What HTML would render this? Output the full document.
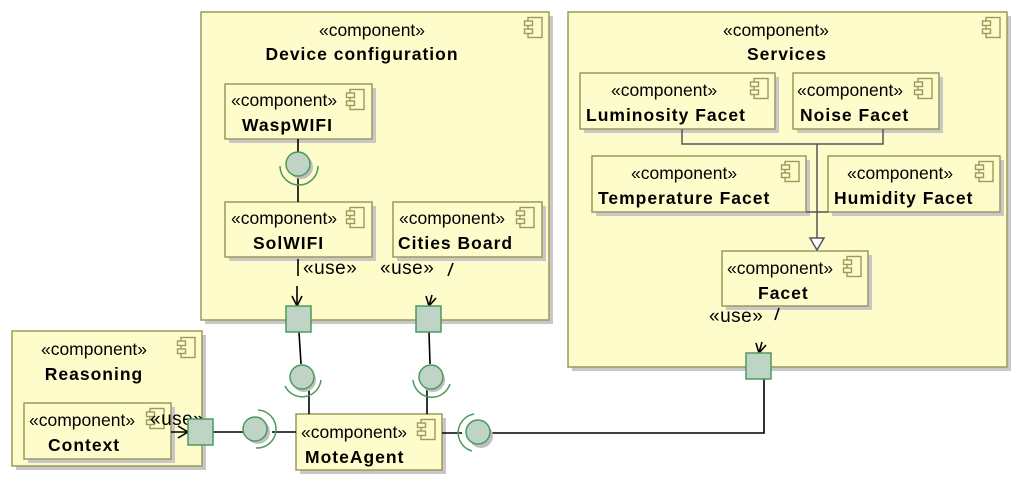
<!DOCTYPE html>
<html><head><meta charset="utf-8"><style>
html,body{margin:0;padding:0;background:#fff;}
svg{display:block;}
text{font-family:"Liberation Sans",Arial,sans-serif;fill:#000;}
.st{font-size:17.5px;}
.nm{font-size:17.5px;font-weight:bold;letter-spacing:1px;}
.us{font-size:19px;letter-spacing:0.5px;}
</style></head><body>
<svg width="1024" height="487" viewBox="0 0 1024 487" xmlns="http://www.w3.org/2000/svg">
<defs>
<symbol id="ic" viewBox="0 0 20 22" overflow="visible">
<rect x="4" y="0.5" width="14" height="20" fill="none" stroke="#9a9a5a" stroke-width="1.4"/>
<rect x="0.5" y="4" width="8" height="4.5" fill="#fffccc" stroke="#9a9a5a" stroke-width="1.4"/>
<rect x="0.5" y="12" width="8" height="4.5" fill="#fffccc" stroke="#9a9a5a" stroke-width="1.4"/>
</symbol>
</defs>
<g fill="#c8c8c8">
<rect x="205" y="16" width="348" height="308"/>
<rect x="572" y="16" width="439" height="355"/>
<rect x="16" y="335" width="190" height="135"/>
</g>
<g fill="#fffccc" stroke="#9a9a5a" stroke-width="1.5">
<rect x="201" y="12" width="348" height="308"/>
<rect x="568" y="12" width="439" height="355"/>
<rect x="12" y="331" width="190" height="135"/>
</g>
<g fill="#c8c8c8">
<rect x="229" y="88" width="147" height="55"/>
<rect x="229" y="206" width="147" height="55"/>
<rect x="397" y="206" width="149" height="55"/>
<rect x="584" y="77" width="195" height="56"/>
<rect x="797" y="77" width="146" height="56"/>
<rect x="596" y="160" width="214" height="56"/>
<rect x="832" y="160" width="172" height="56"/>
<rect x="726" y="255" width="146" height="55"/>
<rect x="28" y="407" width="147" height="56"/>
<rect x="300" y="418" width="146" height="56"/>
</g>
<g fill="#fffccc" stroke="#9a9a5a" stroke-width="1.5">
<rect x="225" y="84" width="147" height="55"/>
<rect x="225" y="202" width="147" height="55"/>
<rect x="393" y="202" width="149" height="55"/>
<rect x="580" y="73" width="195" height="56"/>
<rect x="793" y="73" width="146" height="56"/>
<rect x="592" y="156" width="214" height="56"/>
<rect x="828" y="156" width="172" height="56"/>
<rect x="722" y="251" width="146" height="55"/>
<rect x="24" y="403" width="147" height="56"/>
<rect x="296" y="414" width="146" height="56"/>
</g>
<use href="#ic" x="524" y="17" width="20" height="22"/>
<use href="#ic" x="982" y="17" width="20" height="22"/>
<use href="#ic" x="177" y="337" width="20" height="22"/>
<use href="#ic" x="346" y="89" width="20" height="22"/>
<use href="#ic" x="346" y="207" width="20" height="22"/>
<use href="#ic" x="516" y="207" width="20" height="22"/>
<use href="#ic" x="750" y="78" width="20" height="22"/>
<use href="#ic" x="914" y="78" width="20" height="22"/>
<use href="#ic" x="781" y="161" width="20" height="22"/>
<use href="#ic" x="975" y="161" width="20" height="22"/>
<use href="#ic" x="843" y="256" width="20" height="22"/>
<use href="#ic" x="146" y="408" width="20" height="22"/>
<use href="#ic" x="417" y="419" width="20" height="22"/>
<text class="st" x="372" y="36" text-anchor="middle">«component»</text>
<text class="nm" x="362" y="60" text-anchor="middle">Device configuration</text>
<text class="st" x="776" y="36" text-anchor="middle">«component»</text>
<text class="nm" x="787" y="60" text-anchor="middle">Services</text>
<text class="st" x="94" y="355" text-anchor="middle">«component»</text>
<text class="nm" x="94" y="380" text-anchor="middle">Reasoning</text>
<text class="st" x="231" y="106">«component»</text>
<text class="nm" x="242" y="131">WaspWIFI</text>
<text class="st" x="231" y="224">«component»</text>
<text class="nm" x="253" y="249">SolWIFI</text>
<text class="st" x="399" y="224">«component»</text>
<text class="nm" x="398" y="249">Cities Board</text>
<text class="st" x="611" y="96">«component»</text>
<text class="nm" x="586" y="121">Luminosity Facet</text>
<text class="st" x="797" y="96">«component»</text>
<text class="nm" x="800" y="121">Noise Facet</text>
<text class="st" x="631" y="179">«component»</text>
<text class="nm" x="598" y="204">Temperature Facet</text>
<text class="st" x="847" y="179">«component»</text>
<text class="nm" x="834" y="204">Humidity Facet</text>
<text class="st" x="727" y="274">«component»</text>
<text class="nm" x="758" y="299">Facet</text>
<text class="st" x="29" y="426">«component»</text>
<text class="nm" x="48" y="451">Context</text>
<text class="st" x="301" y="438">«component»</text>
<text class="nm" x="305" y="463">MoteAgent</text>
<text class="us" x="303" y="274">«use»</text>
<text class="us" x="380" y="274">«use»</text>
<text class="us" x="709" y="322">«use»</text>
<text class="us" x="150" y="425">«use»</text>
<g fill="none" stroke="#555" stroke-width="1.5">
<polyline points="682,129 682,144 883,144 883,129"/>
<line x1="817" y1="144" x2="817" y2="238"/>
<line x1="806" y1="212" x2="828" y2="212"/>
</g>
<polygon points="810,238 824,238 817,250" fill="#fff" stroke="#555" stroke-width="1.5"/>
<g fill="none" stroke="#000" stroke-width="1.6">
<line x1="298" y1="139" x2="298" y2="202"/>
<line x1="298" y1="259" x2="298" y2="276"/>
<line x1="297" y1="286" x2="297" y2="306"/>
<polyline points="292,296 297,306 302,296"/>
<line x1="453" y1="263" x2="448" y2="276"/>
<line x1="432" y1="295" x2="429" y2="306"/>
<polyline points="426,296 429,306 436,298"/>
<line x1="779" y1="308" x2="775" y2="320"/>
<line x1="762" y1="342" x2="759" y2="353"/>
<polyline points="756,343 759,353 766,345"/>
<line x1="299" y1="332" x2="301" y2="364"/>
<line x1="309" y1="390" x2="309" y2="414"/>
<line x1="429" y1="332" x2="430" y2="364"/>
<line x1="427" y1="390" x2="427" y2="414"/>
<line x1="213" y1="432" x2="243" y2="432"/>
<line x1="272" y1="432" x2="296" y2="432"/>
<line x1="171" y1="432" x2="188" y2="432"/>
<polyline points="178,426 188,432 178,438"/>
<line x1="442" y1="433" x2="462" y2="433"/>
<polyline points="491,433 764,433 764,379"/>
</g>
<g fill="#bfd4c4" stroke="#4a9a5e" stroke-width="1.5">
<rect x="286" y="306" width="25" height="26"/>
<rect x="416" y="306" width="25" height="26"/>
<rect x="746" y="353" width="25" height="26"/>
<rect x="188" y="419" width="25" height="26"/>
</g>
<g fill="#c0c0c0">
<circle cx="301" cy="167" r="12"/>
<circle cx="304" cy="380" r="12"/>
<circle cx="433" cy="380" r="12"/>
<circle cx="258" cy="432" r="12"/>
<circle cx="481" cy="436" r="12"/>
</g>
<g fill="#bfd4c4" stroke="#4a9a5e" stroke-width="1.5">
<circle cx="298" cy="164" r="12"/>
<circle cx="302" cy="377" r="12"/>
<circle cx="431" cy="377" r="12"/>
<circle cx="255" cy="429" r="12"/>
<circle cx="478" cy="432" r="12"/>
</g>
<g fill="none" stroke="#4a9a5e" stroke-width="1.5">
<path d="M280,166 A19,19 0 0 0 318,166"/>
<path d="M285,386 A19,19 0 0 0 321,380"/>
<path d="M413,380 A19,19 0 0 0 450,384"/>
<path d="M258,410 A19,19 0 0 1 256,448"/>
<path d="M474,414 A19,19 0 0 0 472,451"/>
</g>
</svg>
</body></html>
